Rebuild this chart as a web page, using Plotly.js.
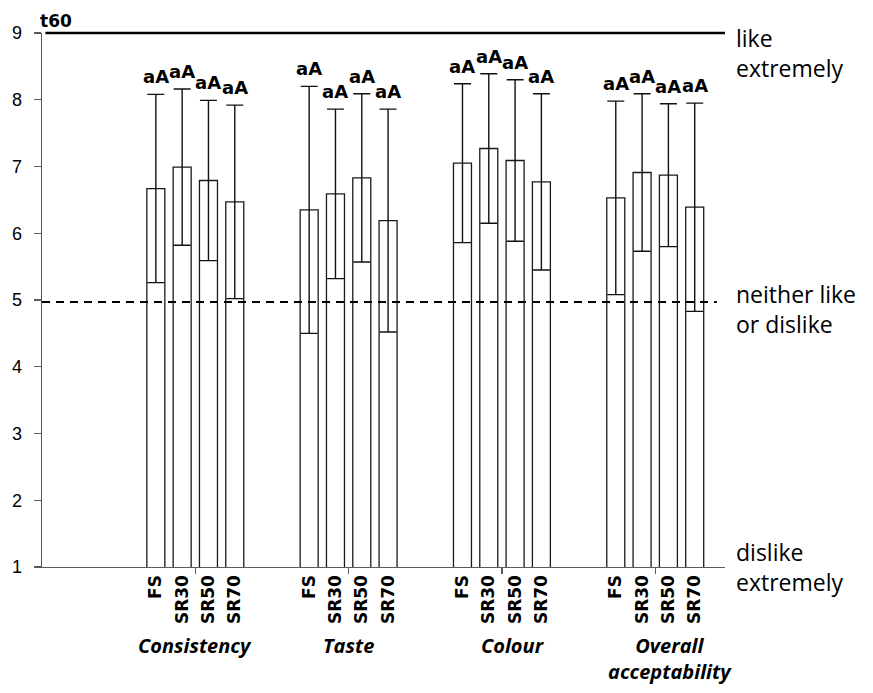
<!DOCTYPE html>
<html>
<head>
<meta charset="utf-8">
<script src="https://cdn.plot.ly/plotly-3.0.1.min.js"></script>
<style>
  html, body { margin: 0; padding: 0; background: #fff; }
  #chart { width: 873px; height: 693px; }
</style>
</head>
<body>
<div id="chart"></div>
<script>
// Hedonic scores (9-point scale) at t60, mean ± SD per attribute and formulation
const attributes = ['Consistency', 'Taste', 'Colour', 'Overall<br>acceptability'];
const treatments = ['FS', 'SR30', 'SR50', 'SR70'];

const meanFS   = [6.67, 6.35, 7.05, 6.53];
const meanSR30 = [6.99, 6.59, 7.27, 6.91];
const meanSR50 = [6.79, 6.83, 7.09, 6.87];
const meanSR70 = [6.47, 6.19, 6.77, 6.39];

const sdFS   = [1.41, 1.85, 1.19, 1.45];
const sdSR30 = [1.17, 1.27, 1.12, 1.18];
const sdSR50 = [1.20, 1.26, 1.21, 1.07];
const sdSR70 = [1.45, 1.67, 1.32, 1.56];

// Significance letters (lower case: between formulations, upper case: over time)
const lettersFS   = ['aA', 'aA', 'aA', 'aA'];
const lettersSR30 = ['aA', 'aA', 'aA', 'aA'];
const lettersSR50 = ['aA', 'aA', 'aA', 'aA'];
const lettersSR70 = ['aA', 'aA', 'aA', 'aA'];

const yTicks = [1, 2, 3, 4, 5, 6, 7, 8, 9];
const scaleAnchors = ['like<br>extremely', 'neither like<br>or dislike', 'dislike<br>extremely'];
const neutralLine = 4.97;
const timepoint = 't60';

// ---- layout helpers ----
const means = [meanFS, meanSR30, meanSR50, meanSR70];
const sds = [sdFS, sdSR30, sdSR50, sdSR70];
const letters = [lettersFS, lettersSR30, lettersSR50, lettersSR70];
const groupPos = attributes.map((_, i) => i + 1);
const pitch = 0.1716;      // distance between neighbouring bars (x units)
const barWidth = 0.1174;
const offsetOf = t => (t - (treatments.length - 1) / 2) * pitch;

const labelFont = 'DejaVu Sans, sans-serif';
const traces = [];
const annotations = [];
const tickVals = [];
const tickText = [];

treatments.forEach((tr, t) => {
  const xs = groupPos.map(g => g + offsetOf(t));
  traces.push({
    type: 'bar',
    name: tr,
    x: xs,
    y: means[t],
    width: xs.map(() => barWidth),
    marker: { color: '#ffffff', line: { color: '#1a1a1a', width: 1.3 } },
    error_y: { type: 'data', array: sds[t], visible: true, color: '#111', thickness: 1.4, width: 8.5 },
    hoverinfo: 'x+y'
  });
  xs.forEach((x, i) => {
    tickVals.push(x);
    tickText.push(tr);
    annotations.push({
      x: x, y: means[t][i] + sds[t][i], xref: 'x', yref: 'y',
      text: '<b>' + letters[t][i] + '</b>', showarrow: false,
      yanchor: 'bottom', yshift: 5,
      font: { family: labelFont, size: 18, color: '#000' }
    });
  });
});

// invisible trace so the group tick axis is drawn
traces.push({
  type: 'scatter', x: groupPos, y: groupPos.map(() => null),
  xaxis: 'x2', yaxis: 'y', mode: 'markers', showlegend: false, hoverinfo: 'skip'
});

// attribute names under the formulation labels
const nudge = [0, 0, 11, 15];
attributes.forEach((a, i) => {
  annotations.push({
    x: groupPos[i], y: -0.118, xref: 'x', yref: 'paper',
    xshift: nudge[i],
    text: '<b><i>' + a + '</i></b>', showarrow: false,
    xanchor: 'center', yanchor: 'top', align: 'center',
    font: { family: 'Open Sans, sans-serif', size: 20, color: '#000' }
  });
});

// verbal anchors of the hedonic scale
const anchorY = [8.70, 4.87, 1.0];
scaleAnchors.forEach((s, i) => {
  annotations.push({
    x: 1.013, y: anchorY[i], xref: 'paper', yref: 'y',
    text: s, showarrow: false, xanchor: 'left', yanchor: 'middle', align: 'left',
    font: { family: 'Open Sans, sans-serif', size: 23, color: '#000' }
  });
});

annotations.push({
  x: -0.006, y: 1.023, xref: 'paper', yref: 'paper',
  text: '<b>' + timepoint + '</b>', showarrow: false, xanchor: 'left', yanchor: 'middle',
  font: { family: labelFont, size: 17, color: '#000' }
});

const xRange = [0, 4.455];

const layout = {
  width: 873, height: 693,
  margin: { l: 42, r: 148, t: 33, b: 126 },
  paper_bgcolor: '#fff', plot_bgcolor: '#fff',
  showlegend: false,
  barmode: 'overlay',
  xaxis: {
    range: xRange, showgrid: false, zeroline: false,
    showline: true, linecolor: '#595959', linewidth: 1.3,
    tickmode: 'array', tickvals: tickVals, ticktext: tickText,
    ticks: '', tickangle: -90,
    tickfont: { family: labelFont, size: 17, color: '#000', weight: 'bold' }
  },
  xaxis2: {
    overlaying: 'x', anchor: 'y', side: 'bottom', range: xRange,
    showgrid: false, zeroline: false, showline: false,
    tickmode: 'array', tickvals: groupPos, showticklabels: false,
    ticks: 'outside', ticklen: 6, tickcolor: '#595959', tickwidth: 1.3
  },
  yaxis: {
    range: [yTicks[0], yTicks[yTicks.length - 1]],
    tickmode: 'array', tickvals: yTicks,
    showgrid: false, zeroline: false,
    showline: true, linecolor: '#595959', linewidth: 1.3,
    ticks: 'outside', ticklen: 7, tickcolor: '#595959', tickwidth: 1.3,
    ticklabelstandoff: 8,
    tickfont: { family: 'Liberation Sans, Arial, sans-serif', size: 18, color: '#000' }
  },
  shapes: [
    { type: 'line', xref: 'paper', yref: 'paper', x0: 0.005, x1: 1, y0: 1, y1: 1,
      line: { color: '#000', width: 2.5 } },
    { type: 'line', xref: 'paper', yref: 'y', x0: 0, x1: 0.988, y0: neutralLine, y1: neutralLine,
      line: { color: '#000', width: 2, dash: '8px,6px' } }
  ],
  annotations: annotations
};

Plotly.newPlot('chart', traces, layout, { displayModeBar: false, staticPlot: true });
</script>
</body>
</html>
